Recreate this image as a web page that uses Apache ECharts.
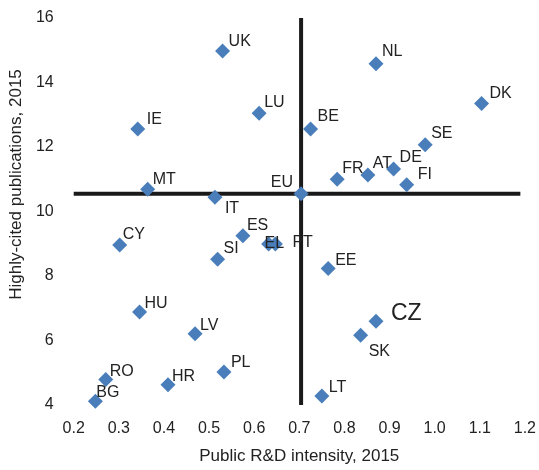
<!DOCTYPE html>
<html>
<head>
<meta charset="utf-8">
<script src="https://cdn.jsdelivr.net/npm/echarts@6/dist/echarts.min.js"></script>
<style>html,body{margin:0;padding:0;background:#fff;}#chart{width:539px;height:470px;}</style>
</head>
<body>
<div id="chart"></div>
<script>
// ---- data ----
var countries = ['UK','LU','IE','MT','IT','EU','NL','DK','BE','SE','DE','AT','FR','FI','CY','ES','EL','PT','SI','HU','LV','PL','RO','HR','BG','EE','CZ','SK','LT'];
var rdIntensity = [0.530,0.611,0.342,0.364,0.513,0.704,0.870,1.104,0.725,0.979,0.909,0.852,0.784,0.938,0.302,0.575,0.632,0.647,0.519,0.346,0.469,0.533,0.271,0.409,0.248,0.764,0.870,0.836,0.750];
var highlyCited = [14.98,13.05,12.56,10.69,10.44,10.55,14.58,13.35,12.56,12.07,11.32,11.13,11.00,10.83,8.96,9.25,8.99,8.99,8.52,6.88,6.21,5.02,4.79,4.63,4.12,8.23,6.60,6.16,4.28];
var xTicks = [0.2,0.3,0.4,0.5,0.6,0.7,0.8,0.9,1.0,1.1,1.2];
var yTicks = [4,6,8,10,12,14,16];
var euIndex = countries.indexOf('EU');
var euX = rdIntensity[euIndex];
var euY = highlyCited[euIndex];
var hLineX = [0.2, 1.19];
var vLineY = [4, 16];

// ---- label placement (styling only) ----
var labelOffsets = {
  UK:[6,-9], LU:[5,-11], IE:[9,-9], MT:[5,-10], IT:[10,11], EU:[-8,-11],
  NL:[6,-12], DK:[8,-10], BE:[7,-12], SE:[6,-11], DE:[6,-11], AT:[5,-11],
  FR:[5,-11], FI:[11,-10], CY:[3,-10], ES:[4,-10], EL:[-4,0], PT:[17,-1],
  SI:[6,-11], HU:[5,-9], LV:[5,-8], PL:[7,-10], RO:[4,-8], HR:[4,-8],
  BG:[1,-9], EE:[7,-8], CZ:[15,-7], SK:[8,16], LT:[7,-8]
};

var points = countries.map(function(c, i){
  var lab = {show: true, position: 'inside', verticalAlign: 'middle',
             align: c === 'EU' ? 'right' : 'left', offset: labelOffsets[c]};
  if (c === 'CZ') lab.fontSize = 23;
  return {name: c, value: [rdIntensity[i], highlyCited[i]], label: lab};
});

var chart = echarts.init(document.getElementById('chart'), null, {renderer:'canvas'});
var font = 'Liberation Sans, Arial, sans-serif';
var txt = '#222222';
chart.setOption({
  animation: false,
  backgroundColor: '#ffffff',
  textStyle: {fontFamily: font},
  grid: {left: 73, right: 13, top: 18, bottom: 60},
  xAxis: {
    type: 'value', min: xTicks[0], max: xTicks[xTicks.length-1], interval: 0.1,
    axisLine: {show: false}, axisTick: {show: false}, splitLine: {show: false},
    axisLabel: {color: txt, fontSize: 16, margin: 16, fontFamily: font,
      formatter: function(v){ return v.toFixed(1); }},
    name: 'Public R&D intensity, 2015', nameLocation: 'middle', nameGap: 43,
    nameTextStyle: {color: txt, fontSize: 17, fontFamily: font}
  },
  yAxis: {
    type: 'value', min: yTicks[0], max: yTicks[yTicks.length-1], interval: 2,
    axisLine: {show: false}, axisTick: {show: false}, splitLine: {show: false},
    axisLabel: {color: txt, fontSize: 16, margin: 20, fontFamily: font},
    name: 'Highly-cited publications, 2015', nameLocation: 'middle', nameGap: 34,
    nameTextStyle: {color: txt, fontSize: 17, fontFamily: font, padding: [0,0,0,54]}
  },
  series: [
    {type: 'line', data: [[hLineX[0], euY],[hLineX[1], euY]], symbol: 'none', silent: true,
      lineStyle: {color: '#1a1a1a', width: 4}, z: 1},
    {type: 'line', data: [[euX, vLineY[0]],[euX, vLineY[1]]], symbol: 'none', silent: true,
      lineStyle: {color: '#1a1a1a', width: 4}, z: 1},
    {type: 'scatter', symbol: 'diamond', symbolSize: 15, z: 3,
      itemStyle: {color: '#4A7EBB', opacity: 1},
      label: {show: true, position: 'inside', align: 'left', verticalAlign: 'middle',
        formatter: '{b}', color: txt, fontSize: 16, fontFamily: font},
      data: points}
  ]
});
</script>
</body>
</html>
